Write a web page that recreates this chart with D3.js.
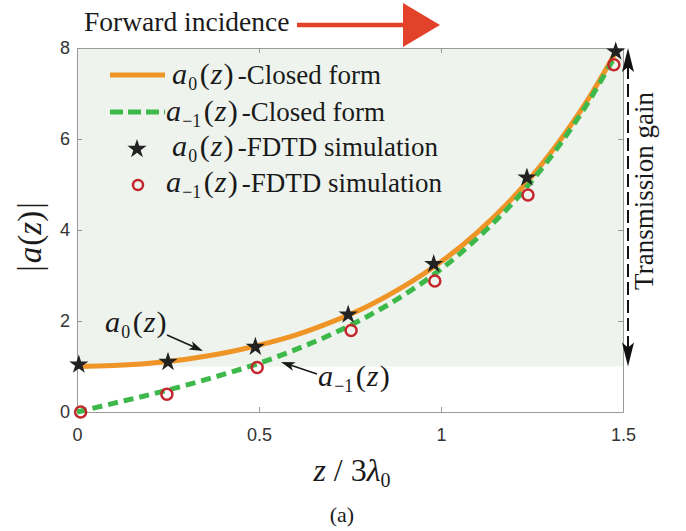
<!DOCTYPE html>
<html>
<head>
<meta charset="utf-8">
<script src="https://cdn.jsdelivr.net/npm/d3@7"></script>
<style>
  body { margin: 0; background: #fff; }
</style>
</head>
<body>
<div id="chart"></div>
<script>
// closed-form curves
const zCurve = [0, 0.1, 0.2, 0.3, 0.4, 0.5, 0.6, 0.7, 0.8, 0.9, 1.0, 1.1, 1.2, 1.3, 1.4, 1.48];
const a0Curve = [1.00, 1.02, 1.07, 1.16, 1.29, 1.47, 1.69, 1.98, 2.33, 2.77, 3.30, 3.95, 4.73, 5.68, 6.82, 7.91];
const am1Curve = [0.00, 0.19, 0.38, 0.59, 0.82, 1.07, 1.37, 1.71, 2.11, 2.58, 3.14, 3.82, 4.62, 5.59, 6.75, 7.85];

// FDTD samples
const zStar = [0.005, 0.25, 0.49, 0.745, 0.98, 1.236, 1.48];
const a0Sim = [1.04, 1.10, 1.43, 2.14, 3.25, 5.15, 7.92];
const zCircle = [0.01, 0.247, 0.495, 0.753, 0.983, 1.239, 1.475];
const am1Sim = [0.00, 0.39, 0.98, 1.79, 2.88, 4.77, 7.63];

const xTicks = [0, 0.5, 1, 1.5];
const yTicks = [0, 2, 4, 6, 8];
const gainRange = [1, 8];

const W = 686, H = 531;
const m = { left: 77, right: 623, top: 48, bottom: 412 };
const serif = "'Liberation Serif', 'Times New Roman', serif";
const sans = "'Liberation Sans', Arial, Helvetica, sans-serif";
const orange = "#ef9528", green = "#3db84a", red = "#c3272d", starCol = "#222";

const svg = d3.select("#chart").append("svg")
  .attr("width", W).attr("height", H)
  .style("background", "#fff");

const x = d3.scaleLinear().domain([0, 1.5]).range([m.left, m.right]);
const y = d3.scaleLinear().domain([0, 8]).range([m.bottom, m.top]);

// shaded gain region
svg.append("rect")
  .attr("x", x(0)).attr("width", x(1.5) - x(0))
  .attr("y", y(gainRange[1])).attr("height", y(gainRange[0]) - y(gainRange[1]))
  .attr("fill", "#eef4ed");

// axes (box with inward ticks)
function styleAxis(g) {
  g.select(".domain").attr("stroke", "#9a9a9a");
  g.selectAll(".tick line").attr("stroke", "#9a9a9a");
  g.selectAll(".tick text").attr("fill", "#333").attr("font-family", sans).attr("font-size", 18);
}
svg.append("g").attr("transform", `translate(0,${m.bottom})`)
  .call(d3.axisBottom(x).tickValues(xTicks).tickFormat(d3.format("")).tickSizeInner(-5).tickSizeOuter(0).tickPadding(16))
  .call(styleAxis);
svg.append("g").attr("transform", `translate(0,${m.top})`)
  .call(d3.axisTop(x).tickValues(xTicks).tickFormat("").tickSizeInner(-5).tickSizeOuter(0))
  .call(styleAxis);
svg.append("g").attr("transform", `translate(${m.left},0)`)
  .call(d3.axisLeft(y).tickValues(yTicks).tickSizeInner(-5).tickSizeOuter(0).tickPadding(7))
  .call(styleAxis);
svg.append("g").attr("transform", `translate(${m.right},0)`)
  .call(d3.axisRight(y).tickValues(yTicks).tickFormat("").tickSizeInner(-5).tickSizeOuter(0))
  .call(styleAxis);

// curves
const line = d3.line().curve(d3.curveCatmullRom)
  .x(d => x(d[0])).y(d => y(d[1]));
svg.append("path")
  .datum(zCurve.map((z, i) => [z, a0Curve[i]]))
  .attr("d", line).attr("fill", "none")
  .attr("stroke", orange).attr("stroke-width", 5);
svg.append("path")
  .datum(zCurve.map((z, i) => [z, am1Curve[i]]))
  .attr("d", line).attr("fill", "none")
  .attr("stroke", green).attr("stroke-width", 5)
  .attr("stroke-dasharray", "10,6");

// simulation markers
const starSym = d3.symbol().type(d3.symbolStar).size(115);
svg.selectAll(".star")
  .data(zStar.map((z, i) => [z, a0Sim[i]]))
  .join("path")
  .attr("class", "star")
  .attr("d", starSym)
  .attr("transform", d => `translate(${x(d[0])},${y(d[1])})`)
  .attr("fill", starCol);
svg.selectAll(".circ")
  .data(zCircle.map((z, i) => [z, am1Sim[i]]))
  .join("circle")
  .attr("class", "circ")
  .attr("cx", d => x(d[0])).attr("cy", d => y(d[1]))
  .attr("r", 5.5).attr("fill", "none")
  .attr("stroke", red).attr("stroke-width", 2.5);

// math text helper: a_sub(z) + suffix, spaced like LaTeX math
function mathA(g, px, py, sub, suffix, size) {
  const t = g.append("text")
    .attr("x", px).attr("y", py)
    .attr("font-family", serif).attr("font-size", size).attr("fill", "#1a1a1a");
  t.append("tspan").attr("font-style", "italic").attr("font-size", size * 1.12).text("a");
  t.append("tspan").attr("font-size", size * 0.66).attr("dy", size * 0.22).attr("dx", 1).text(sub);
  t.append("tspan").attr("dy", -size * 0.22).attr("dx", size * 0.1).attr("font-size", size * 1.12).text("(");
  t.append("tspan").attr("font-style", "italic").attr("font-size", size * 1.12).attr("dx", 1).text("z");
  t.append("tspan").attr("font-size", size * 1.12).attr("dx", 1).text(")");
  if (suffix) t.append("tspan").attr("dx", size * 0.15).text(suffix);
  return t;
}

// legend
const legend = svg.append("g");
const rows = [75, 112, 147, 183];
legend.append("line").attr("x1", 110).attr("x2", 165).attr("y1", rows[0]).attr("y2", rows[0])
  .attr("stroke", orange).attr("stroke-width", 5);
legend.append("line").attr("x1", 110).attr("x2", 165).attr("y1", rows[1]).attr("y2", rows[1])
  .attr("stroke", green).attr("stroke-width", 5).attr("stroke-dasharray", "13,5");
legend.append("path").attr("d", starSym)
  .attr("transform", `translate(137,${rows[2] + 2})`).attr("fill", starCol);
legend.append("circle").attr("cx", 138).attr("cy", rows[3] + 2).attr("r", 5)
  .attr("fill", "none").attr("stroke", red).attr("stroke-width", 2.5);
mathA(legend, 172, rows[0] + 9, "0", "-Closed form", 27);
mathA(legend, 166, rows[1] + 9, "\u22121", "-Closed form", 27);
mathA(legend, 172, rows[2] + 9, "0", "-FDTD simulation", 27);
mathA(legend, 166, rows[3] + 9, "\u22121", "-FDTD simulation", 27);

// annotations on the curves
function arrow(g, x1, y1, x2, y2, head, width) {
  const a = Math.atan2(y2 - y1, x2 - x1);
  g.append("line").attr("x1", x1).attr("y1", y1)
    .attr("x2", x2 - Math.cos(a) * head * 0.7).attr("y2", y2 - Math.sin(a) * head * 0.7)
    .attr("stroke", "#1a1a1a").attr("stroke-width", 1.6);
  const p = d3.path();
  p.moveTo(x2, y2);
  p.lineTo(x2 - Math.cos(a) * head + Math.sin(a) * width, y2 - Math.sin(a) * head - Math.cos(a) * width);
  p.lineTo(x2 - Math.cos(a) * head * 0.75, y2 - Math.sin(a) * head * 0.75);
  p.lineTo(x2 - Math.cos(a) * head - Math.sin(a) * width, y2 - Math.sin(a) * head + Math.cos(a) * width);
  p.closePath();
  g.append("path").attr("d", p.toString()).attr("fill", "#1a1a1a");
}
const ann = svg.append("g");
mathA(ann, 105, 332, "0", null, 27);
arrow(ann, 167, 335, 203, 351, 14, 4.5);
mathA(ann, 318, 386, "\u22121", null, 27);
arrow(ann, 317, 374, 281, 362, 14, 4.5);

// forward incidence
svg.append("text").attr("x", 84).attr("y", 31)
  .attr("font-family", serif).attr("font-size", 27.5).attr("fill", "#1a1a1a")
  .text("Forward incidence");
svg.append("line").attr("x1", 297).attr("x2", 405).attr("y1", 25).attr("y2", 25)
  .attr("stroke", "#e2412a").attr("stroke-width", 4.5);
svg.append("path").attr("d", "M403,3 L440,25 L403,47 Z").attr("fill", "#e2412a");

// transmission gain
const gx = 628;
const gTop = y(gainRange[1]), gBot = y(gainRange[0]);
svg.append("line").attr("x1", gx).attr("x2", gx).attr("y1", gTop + 18).attr("y2", gBot - 18)
  .attr("stroke", "#111").attr("stroke-width", 2).attr("stroke-dasharray", "13,5");
svg.append("path")
  .attr("d", `M${gx},${gTop} L${gx + 6},${gTop + 24} L${gx},${gTop + 19} L${gx - 6},${gTop + 24} Z`)
  .attr("fill", "#111");
svg.append("path")
  .attr("d", `M${gx},${gBot} L${gx + 6},${gBot - 24} L${gx},${gBot - 19} L${gx - 6},${gBot - 24} Z`)
  .attr("fill", "#111");
svg.append("text")
  .attr("transform", `translate(653,191) rotate(-90)`)
  .attr("text-anchor", "middle")
  .attr("font-family", serif).attr("font-size", 27).attr("fill", "#1a1a1a")
  .text("Transmission gain");

// y label |a(z)|
const yl = svg.append("text")
  .attr("transform", "translate(41,237) rotate(-90)")
  .attr("text-anchor", "middle")
  .attr("font-family", serif).attr("font-size", 33).attr("fill", "#1a1a1a");
yl.append("tspan").text("|");
yl.append("tspan").attr("font-style", "italic").attr("dx", 2).text("a");
yl.append("tspan").attr("dx", 1).text("(");
yl.append("tspan").attr("font-style", "italic").text("z");
yl.append("tspan").text(")");
yl.append("tspan").attr("dx", 2).text("|");

// x label z / 3λ0
const xl = svg.append("text")
  .attr("x", 352).attr("y", 481)
  .attr("text-anchor", "middle")
  .attr("font-family", serif).attr("font-size", 32).attr("fill", "#1a1a1a");
xl.append("tspan").attr("font-style", "italic").text("z");
xl.append("tspan").text(" / 3");
xl.append("tspan").attr("font-style", "italic").text("\u03bb");
xl.append("tspan").attr("font-size", 20).attr("dy", 6).text("0");

// panel tag
svg.append("text").attr("x", 342).attr("y", 522)
  .attr("text-anchor", "middle")
  .attr("font-family", serif).attr("font-size", 22).attr("fill", "#1a1a1a")
  .text("(a)");
</script>
</body>
</html>
